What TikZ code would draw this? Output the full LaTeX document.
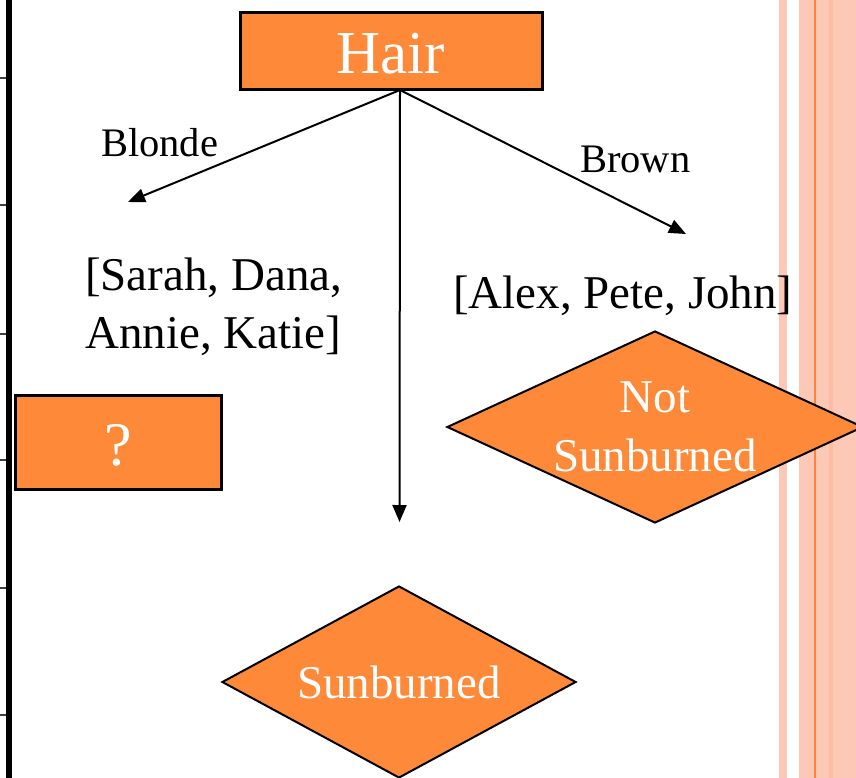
\documentclass[tikz,border=0pt]{standalone}
\usepackage{fontspec}
\setmainfont{Liberation Serif}
\usetikzlibrary{shapes.geometric,arrows.meta,calc}
\definecolor{boxorange}{RGB}{254,137,56}
\definecolor{stripepink}{RGB}{253,201,182}
\definecolor{stripedeep}{RGB}{252,189,162}
\definecolor{stripeline}{RGB}{253,130,60}
\begin{document}
\begin{tikzpicture}[x=1pt,y=-1pt,
  stepbox/.style={draw=black,line width=3pt,fill=boxorange,text=white,inner sep=0pt},
  decision/.style={shape=diamond,draw=black,line width=2pt,fill=boxorange,text=white,
    inner sep=0pt,align=center,font=\fontsize{47}{59}\selectfont},
  lbl/.style={inner sep=0pt,font=\fontsize{40.5}{48}\selectfont},
  txt/.style={inner sep=0pt,font=\fontsize{47}{58}\selectfont},
  flow/.style={line width=2pt,-{Triangle[length=17pt,width=14pt]}},
]
\useasboundingbox (0,0) rectangle (856,778);

% page decoration: stripes on the right, ruled bar on the left
\fill[stripepink] (779,0) rectangle (787,778);
\fill[stripepink] (799,0) rectangle (856,778);
\fill[stripedeep] (829,0) rectangle (833,778);
\fill[stripeline] (814.3,0) rectangle (815.8,778);
\fill[black] (6,0) rectangle (12,778);
\foreach \yy in {78,205,334,460,588,715}
  \draw[line width=1.4pt,black!75] (0,\yy) -- (6,\yy);

% tree nodes
\node[stepbox,minimum width=302,minimum height=77,text height=46pt,text depth=0pt,
      font=\fontsize{61}{72}\selectfont] (hair) at (391,51) {Hair};
\node[stepbox,minimum width=206,minimum height=94,text height=45pt,text depth=0pt,
      font=\fontsize{62}{72}\selectfont] (unknown) at (118.5,442.5) {?};
\node[decision,aspect=1.84,minimum width=354,minimum height=192] (sun) at (399,682) {Sunburned};
\node[decision,aspect=2.17,minimum width=416,minimum height=192] (notsun) at (655,427) {Not\\Sunburned};

% branch labels and example sets
\node[lbl,anchor=base west] (blonde) at (101,157) {Blonde};
\node[lbl,anchor=base west] (brown) at (580,173) {Brown};
\node[txt,anchor=base west,align=left] (blondeset) at (85,348) {[Sarah, Dana,\\Annie, Katie]};
\node[txt,anchor=base west] (brownset) at (453,308) {[Alex, Pete, John]};

% branches
\coordinate (fork) at (400,90);
\coordinate (blondeend) at (128,202);
\coordinate (brownend) at (686,234);
\coordinate (downend) at (399.5,522);
\draw[flow] (fork) -- (blondeend);
\draw[flow] (fork) -- (brownend);
\draw[flow] (fork) -- (downend);
\end{tikzpicture}
\end{document}
